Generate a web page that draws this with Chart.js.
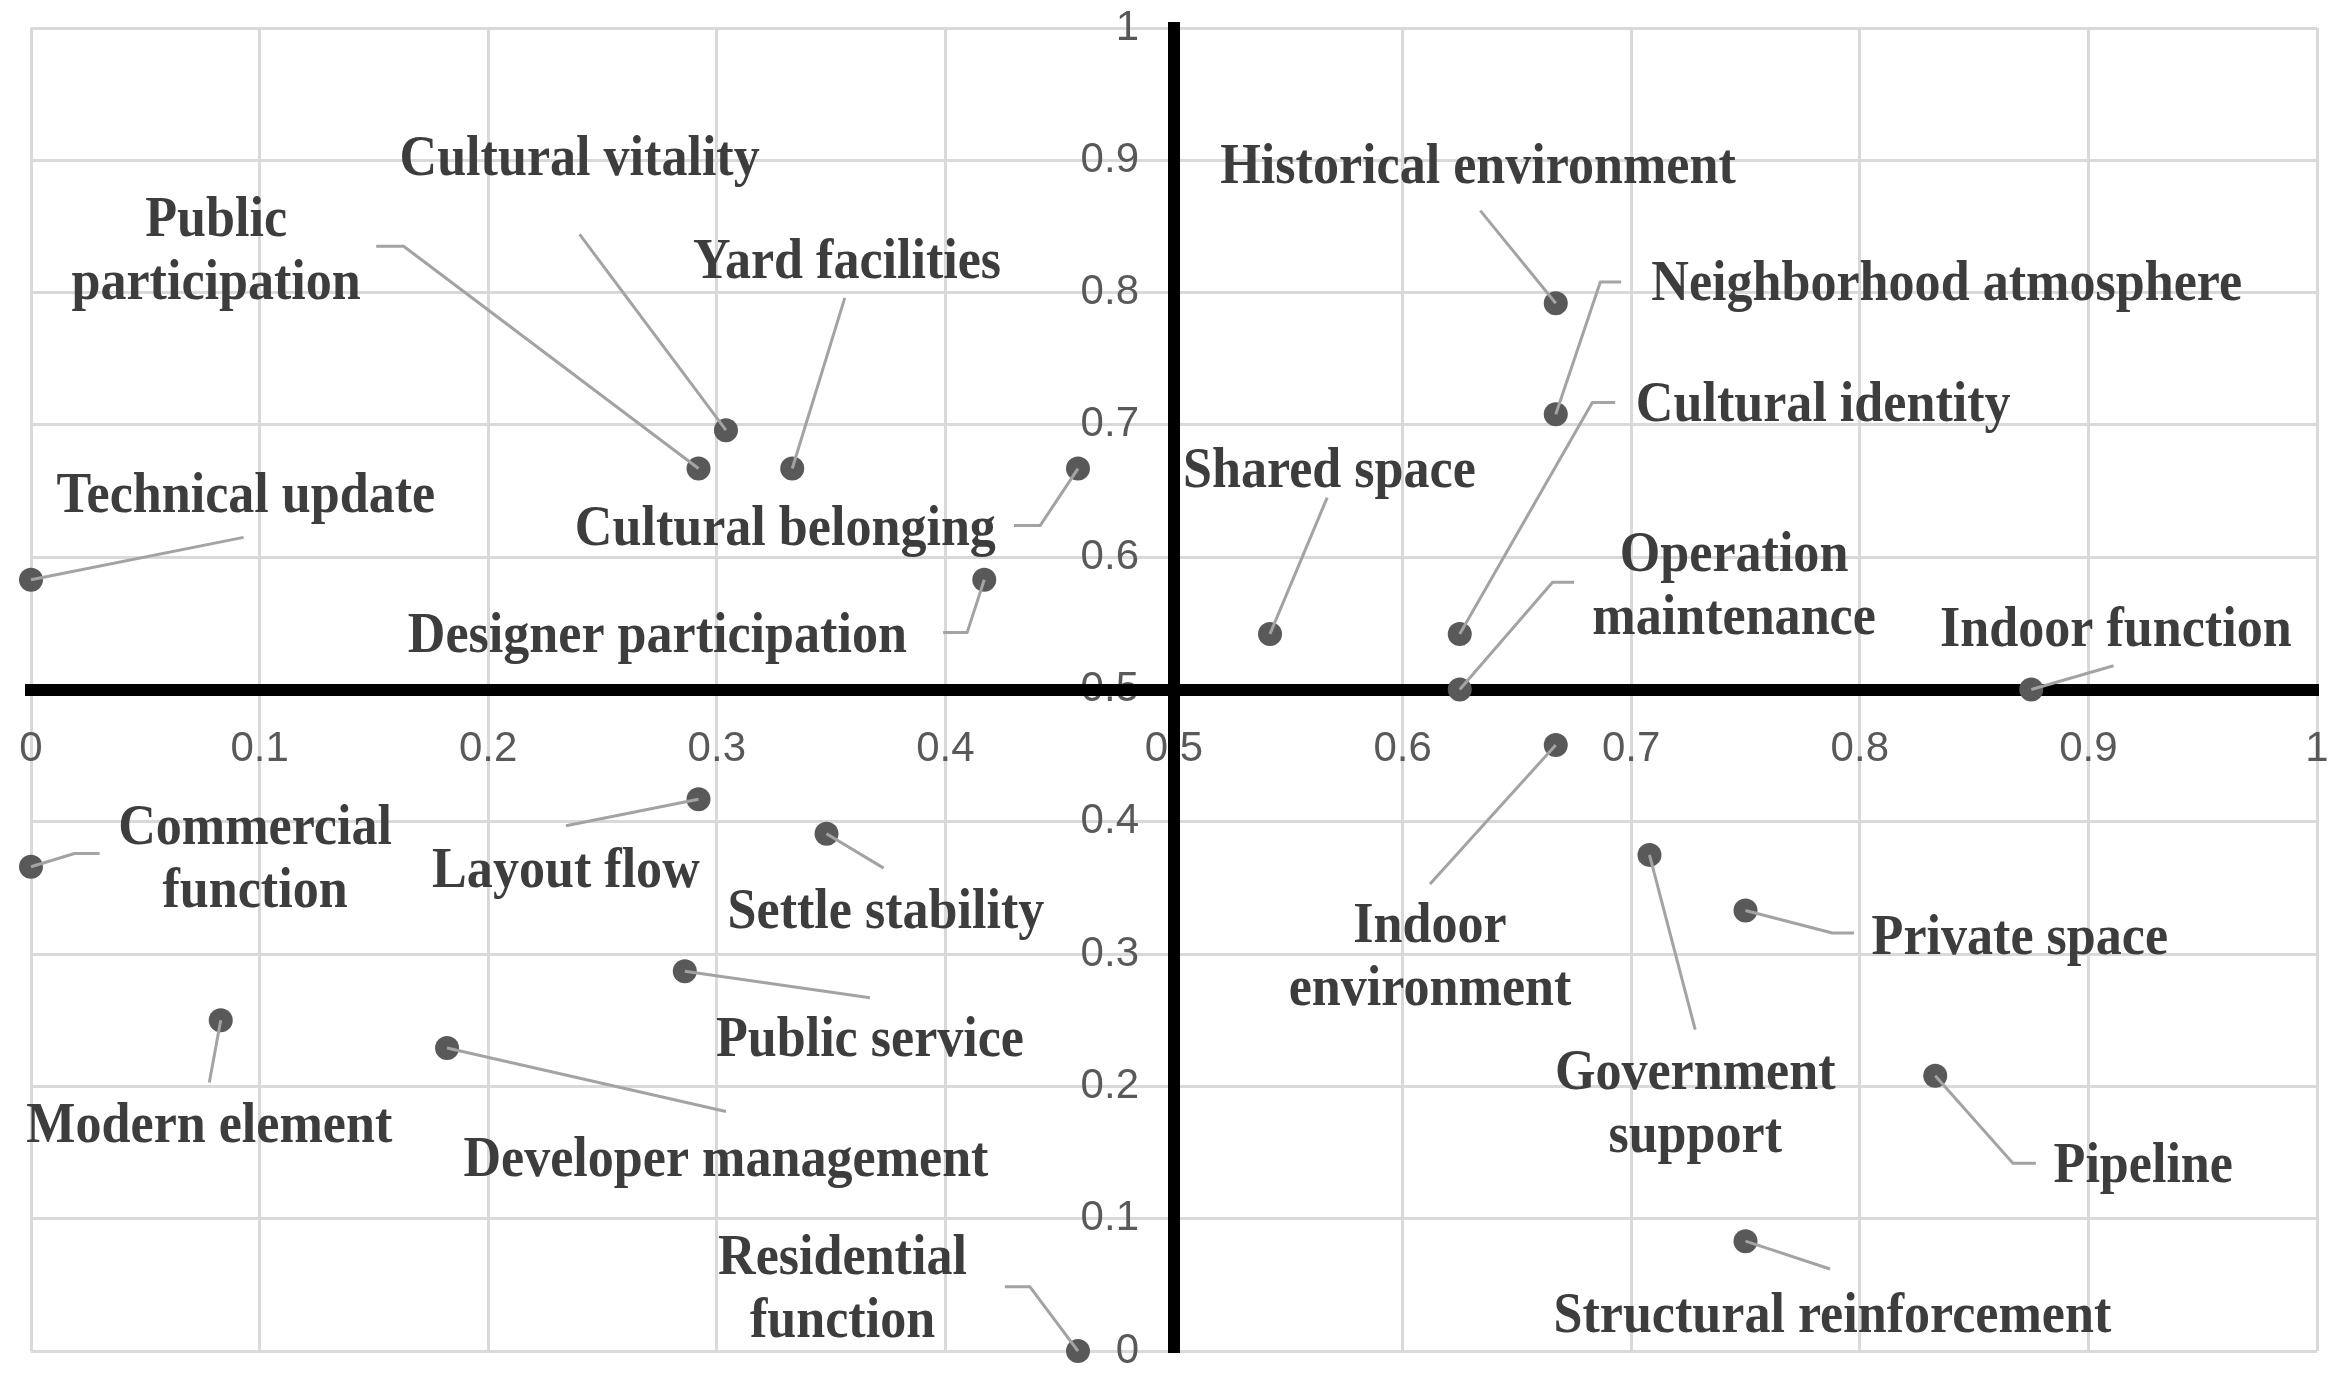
<!DOCTYPE html>
<html>
<head>
<meta charset="utf-8">
<script src="https://cdn.jsdelivr.net/npm/chart.js@4.4.1/dist/chart.umd.min.js"></script>
<style>
	html, body { margin: 0; padding: 0; background: #fff; }
	canvas { display: block; }
</style>
</head>
<body>
<canvas id="quadrantChart" width="2341" height="1383"></canvas>
<script>
// factors and their scores (x / y)
const factors = [
	'Technical update', 'Public participation', 'Cultural vitality', 'Yard facilities',
	'Cultural belonging', 'Designer participation', 'Historical environment', 'Neighborhood atmosphere',
	'Cultural identity', 'Shared space', 'Operation maintenance', 'Indoor function',
	'Indoor environment', 'Government support', 'Private space', 'Pipeline',
	'Structural reinforcement', 'Commercial function', 'Layout flow', 'Settle stability',
	'Public service', 'Modern element', 'Developer management', 'Residential function'
];
const xValues = [
	0, 0.292, 0.304, 0.333,
	0.458, 0.417, 0.667, 0.667,
	0.625, 0.542, 0.625, 0.875,
	0.667, 0.708, 0.75, 0.833,
	0.75, 0, 0.292, 0.348,
	0.286, 0.083, 0.182, 0.458
];
const yValues = [
	0.583, 0.667, 0.696, 0.667,
	0.667, 0.583, 0.792, 0.708,
	0.542, 0.542, 0.5, 0.5,
	0.458, 0.375, 0.333, 0.208,
	0.083, 0.366, 0.417, 0.391,
	0.287, 0.25, 0.229, 0
];
const tickValues = [0, 0.1, 0.2, 0.3, 0.4, 0.5, 0.6, 0.7, 0.8, 0.9, 1];
const tickLabels = ['0', '0.1', '0.2', '0.3', '0.4', '0.5', '0.6', '0.7', '0.8', '0.9', '1'];

// label placement (data units): text centre, leader line bends
const labelLayout = [
	{ at: [0.094, 0.648], leader: [[0.093, 0.615]] },
	{ at: [0.081, 0.833], wrap: true, leader: [[0.163, 0.835], [0.151, 0.835]] },
	{ at: [0.240, 0.903], leader: [[0.240, 0.844]] },
	{ at: [0.357, 0.825], leader: [[0.356, 0.796]] },
	{ at: [0.330, 0.623], leader: [[0.4415, 0.624], [0.430, 0.624]] },
	{ at: [0.274, 0.542], leader: [[0.4095, 0.543], [0.399, 0.543]] },
	{ at: [0.633, 0.897], leader: [[0.634, 0.862]] },
	{ at: [0.838, 0.808], leader: [[0.6865, 0.808], [0.6956, 0.808]] },
	{ at: [0.784, 0.717], leader: [[0.683, 0.717], [0.693, 0.717]] },
	{ at: [0.568, 0.667], leader: [[0.567, 0.645]] },
	{ at: [0.745, 0.580], wrap: true, leader: [[0.6656, 0.581], [0.675, 0.581]] },
	{ at: [0.912, 0.547], leader: [[0.911, 0.518]] },
	{ at: [0.612, 0.299], wrap: true, leader: [[0.612, 0.353]] },
	{ at: [0.728, 0.1885], wrap: true, leader: [[0.728, 0.243]] },
	{ at: [0.870, 0.314], leader: [[0.788, 0.316], [0.7975, 0.316]] },
	{ at: [0.924, 0.142], leader: [[0.867, 0.142], [0.877, 0.142]] },
	{ at: [0.788, 0.028], leader: [[0.787, 0.062]] },
	{ at: [0.098, 0.3735], wrap: true, leader: [[0.019, 0.376], [0.030, 0.376]] },
	{ at: [0.234, 0.365], leader: [[0.234, 0.397]] },
	{ at: [0.374, 0.334], leader: [[0.373, 0.365]] },
	{ at: [0.367, 0.237], leader: [[0.367, 0.267]] },
	{ at: [0.078, 0.172], leader: [[0.078, 0.203]] },
	{ at: [0.304, 0.146], leader: [[0.304, 0.181]] },
	{ at: [0.355, 0.0485], wrap: true, leader: [[0.437, 0.0485], [0.426, 0.0485]] }
];

document.addEventListener('DOMContentLoaded', function() {
	initQuadrantChart();
});

// leader lines + bold labels, drawn over the points
const calloutPlugin = {
	id: 'callouts',
	afterDatasetsDraw(chart) {
		const ctx = chart.ctx;
		const xs = chart.scales.x;
		const ys = chart.scales.y;
		const meta = chart.getDatasetMeta(0);
		ctx.save();
		ctx.strokeStyle = '#a3a3a3';
		ctx.lineWidth = 3;
		ctx.lineJoin = 'round';
		labelLayout.forEach(function(lay, i) {
			const pt = meta.data[i];
			ctx.beginPath();
			ctx.moveTo(pt.x, pt.y);
			lay.leader.forEach(function(p) {
				ctx.lineTo(xs.getPixelForValue(p[0]), ys.getPixelForValue(p[1]));
			});
			ctx.stroke();
		});

		ctx.fillStyle = '#3d3d3d';
		ctx.font = 'bold 56px "Liberation Serif", "Times New Roman", serif';
		ctx.textAlign = 'center';
		ctx.textBaseline = 'middle';
		labelLayout.forEach(function(lay, i) {
			const lines = lay.wrap ? factors[i].split(' ') : [factors[i]];
			const cx = xs.getPixelForValue(lay.at[0]);
			const cy = ys.getPixelForValue(lay.at[1]) + 4;
			lines.forEach(function(line, k) {
				ctx.save();
				ctx.translate(cx, cy + (k - (lines.length - 1) / 2) * 63);
				ctx.scale(0.93, 1);
				ctx.fillText(line, 0, 0);
				ctx.restore();
			});
		});
		ctx.restore();
	}
};

// axes sit on the 0.5 lines and take no layout room
function axisOptions(pos, pad, suffix) {
	return {
		type: 'linear',
		min: 0,
		max: 1,
		position: pos,
		afterBuildTicks: function(scale) {
			scale.ticks = tickValues.map(function(v) { return { value: v }; });
		},
		afterFit: function(scale) {
			if (scale.isHorizontal()) scale.height = 0; else scale.width = 0;
			scale.paddingLeft = scale.paddingRight = scale.paddingTop = scale.paddingBottom = 0;
		},
		grid: { color: '#d9d9d9', lineWidth: 3, drawTicks: false, z: -2 },
		border: { display: true, color: '#000000', width: 12 },
		ticks: {
			z: -1,
			padding: pad,
			color: '#595959',
			autoSkip: false,
			maxRotation: 0,
			font: { family: '"Liberation Sans", Arial, sans-serif', size: 42 },
			callback: function(value, index) { return tickLabels[index] + suffix; }
		}
	};
}

function initQuadrantChart() {
	const ctx = document.getElementById('quadrantChart').getContext('2d');
	new Chart(ctx, {
		type: 'scatter',
		data: {
			datasets: [{
				data: xValues.map(function(x, i) { return { x: x, y: yValues[i] }; }),
				backgroundColor: '#595959',
				borderWidth: 0,
				pointRadius: 12,
				pointHoverRadius: 12,
				clip: false
			}]
		},
		options: {
			responsive: false,
			animation: false,
			devicePixelRatio: 1,
			layout: { padding: { left: 31, top: 28, right: 24, bottom: 32 } },
			scales: {
				x: axisOptions({ y: 0.5 }, 35, ''),
				y: axisOptions({ x: 0.5 }, 0, '   ')
			},
			plugins: {
				legend: { display: false },
				tooltip: { enabled: false }
			}
		},
		plugins: [calloutPlugin]
	});
}
</script>
</body>
</html>
